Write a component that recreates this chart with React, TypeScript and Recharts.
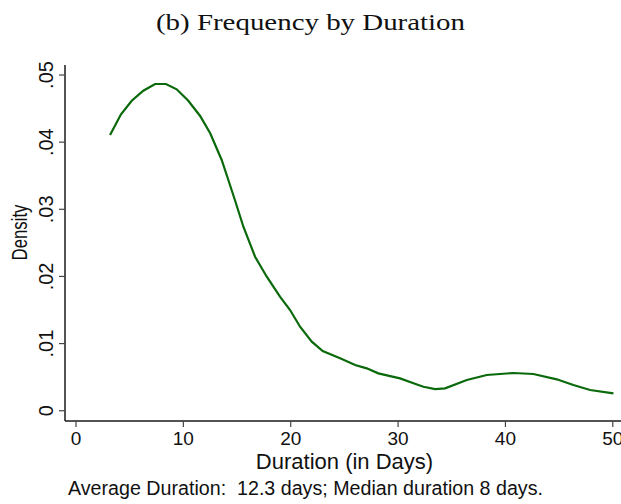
import React from "react";
import { LineChart, Line, XAxis, YAxis } from "recharts";

const durationX = [3.17, 4.19, 5.19, 6.27, 7.36, 8.38, 9.38, 10.46, 11.56, 12.5, 13.57, 14.19, 14.8, 15.59, 16.68, 17.77, 19.0, 19.94, 20.87, 21.96, 22.98, 24.6, 26.0, 27.08, 28.16, 30.18, 31.89, 32.36, 33.45, 34.38, 36.4, 38.26, 40.74, 42.6, 44.78, 46.33, 47.89, 50.06];
const densityY = [0.04106, 0.04415, 0.04617, 0.04766, 0.04866, 0.04866, 0.04787, 0.04617, 0.04390, 0.04132, 0.03734, 0.03436, 0.03138, 0.0274, 0.02294, 0.01996, 0.01698, 0.015, 0.01251, 0.01028, 0.00889, 0.0078, 0.0068, 0.00631, 0.00557, 0.00482, 0.00383, 0.00357, 0.00323, 0.00333, 0.00457, 0.00532, 0.00562, 0.00547, 0.00468, 0.00383, 0.00308, 0.00259];

const xTicks = [0, 10, 20, 30, 40, 50];
const yTicks = [0, 0.01, 0.02, 0.03, 0.04, 0.05];
const yTickLabels = ["0", ".01", ".02", ".03", ".04", ".05"];

const titleText = "(b) Frequency by Duration";
const xLabel = "Duration (in Days)";
const yLabel = "Density";
const noteText = "Average Duration:  12.3 days; Median duration 8 days.";

const data = durationX.map((x, i) => ({ x, y: densityY[i] }));

const SANS = "'Liberation Sans', Arial, Helvetica, sans-serif";

const XTick = (props: any) => {
  const { x, y, payload } = props;
  return (
    <text x={x} y={y + 16} textAnchor="middle" fontFamily={SANS} fontSize={19} fill="#111">
      {payload.value}
    </text>
  );
};

const YTick = (props: any) => {
  const { x, y, payload } = props;
  const idx = yTicks.findIndex((t) => Math.abs(t - payload.value) < 1e-9);
  const label = idx >= 0 ? yTickLabels[idx] : String(payload.value);
  const bx = x - 4;
  return (
    <text x={bx} y={y} textAnchor="middle" fontFamily={SANS} fontSize={20} fill="#111" transform={`rotate(-90, ${bx}, ${y})`}>
      {label}
    </text>
  );
};

export default function App() {
  return (
    <div style={{ position: "fixed", left: 0, top: 0, width: 621, height: 504, overflow: "hidden", background: "#fff" }}>
      <LineChart width={660} height={504} data={data} margin={{ top: 65, right: 15, bottom: 0, left: 0 }}>
        <XAxis
          type="number"
          dataKey="x"
          domain={[-1.025, 53.0]}
          ticks={xTicks}
          allowDataOverflow
          height={83}
          tickSize={6}
          tick={<XTick />}
          tickLine={{ stroke: "#444", strokeWidth: 1.2 }}
          axisLine={{ stroke: "#1a1a1a", strokeWidth: 1.5 }}
          interval={0}
        />
        <XAxis
          xAxisId="top"
          orientation="top"
          type="number"
          domain={[-1.025, 53.0]}
          height={0}
          tick={false}
          tickLine={false}
          axisLine={{ stroke: "#1a1a1a", strokeWidth: 1.5 }}
        />
        <YAxis
          type="number"
          domain={[-0.00153, 0.05149]}
          ticks={yTicks}
          allowDataOverflow
          width={65}
          tickSize={6}
          tick={<YTick />}
          tickLine={{ stroke: "#444", strokeWidth: 1.2 }}
          axisLine={{ stroke: "#1a1a1a", strokeWidth: 1.5 }}
          interval={0}
        />
        <Line
          type="linear"
          dataKey="y"
          stroke="#0a690a"
          strokeWidth={2.2}
          dot={false}
          activeDot={false}
          isAnimationActive={false}
        />
      </LineChart>
      <svg width={621} height={504} style={{ position: "absolute", left: 0, top: 0, pointerEvents: "none" }}>
        <text x={156} y={29.5} fontFamily="'Liberation Serif', 'Times New Roman', serif" fontSize={23} fill="#111" textLength={309} lengthAdjust="spacingAndGlyphs">
          {titleText}
        </text>
        <text x={344.5} y={468.5} textAnchor="middle" fontFamily={SANS} fontSize={22} fill="#111">
          {xLabel}
        </text>
        <text x={27} y={232.5} textAnchor="middle" fontFamily={SANS} fontSize={21.5} fill="#111" textLength={56} lengthAdjust="spacingAndGlyphs" transform="rotate(-90, 27, 232.5)">
          {yLabel}
        </text>
        <text x={68} y={495} fontFamily={SANS} fontSize={19.5} fill="#111" textLength={475} lengthAdjust="spacingAndGlyphs" style={{ whiteSpace: "pre" }}>
          {noteText}
        </text>
      </svg>
    </div>
  );
}
